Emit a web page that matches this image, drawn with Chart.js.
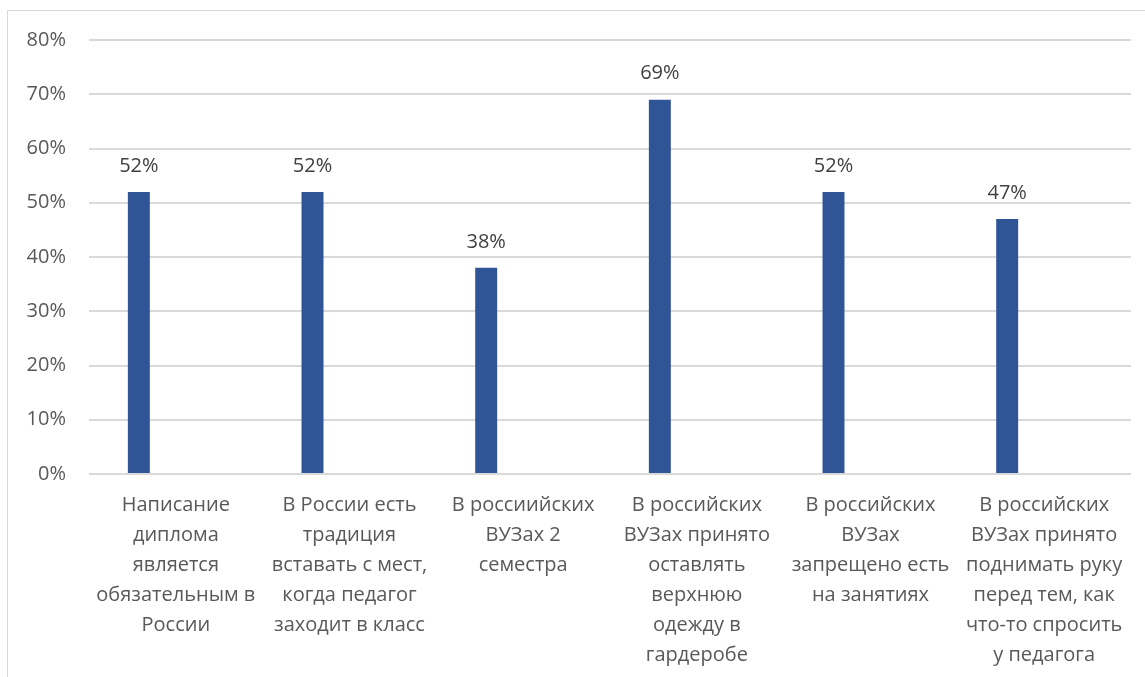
<!DOCTYPE html>
<html>
<head>
<meta charset="utf-8">
<script src="https://cdn.jsdelivr.net/npm/chart.js@4/dist/chart.umd.min.js"></script>
<style>
  html, body { margin: 0; padding: 0; background: #fff; }
  #wrap { position: relative; width: 1145px; height: 677px; overflow: hidden; }
  #frame { position: absolute; left: 7px; top: 10px; width: 1200px; height: 700px;
    border-left: 1px solid #d9d9d9; border-top: 1px solid #d9d9d9; }
  #chart { position: absolute; left: 0; top: 0; }
</style>
</head>
<body>
<div id="wrap">
  <div id="frame"></div>
  <canvas id="chart" width="1145" height="677"></canvas>
</div>
<script>
const CATEGORIES = [
  ['Написание', 'диплома', 'является', 'обязательным в', 'России'],
  ['В России есть', 'традиция', 'вставать с мест,', 'когда педагог', 'заходит в класс'],
  ['В россиийских', 'ВУЗах 2', 'семестра'],
  ['В российских', 'ВУЗах принято', 'оставлять', 'верхнюю', 'одежду в', 'гардеробе'],
  ['В российских', 'ВУЗах', 'запрещено есть', 'на занятиях'],
  ['В российских', 'ВУЗах принято', 'поднимать руку', 'перед тем, как', 'что-то спросить', 'у педагога'],
];

const ANSWER_VALUES = [52, 52, 38, 69, 52, 47];

// second series is empty in the source chart, it only keeps the bar offset
const EMPTY_VALUES = [null, null, null, null, null, null];

const Y_TICKS = [0, 10, 20, 30, 40, 50, 60, 70, 80];

const BAR_COLOR = '#2F5597';
const TEXT_COLOR = '#595959';
const GRID_COLOR = '#d9d9d9';
const FONT = "'Open Sans', 'Noto Sans', sans-serif";

const valueLabels = {
  id: 'valueLabels',
  afterDatasetsDraw(chart) {
    const { ctx } = chart;
    const meta = chart.getDatasetMeta(0);
    ctx.save();
    ctx.fillStyle = '#404040';
    ctx.font = `20px ${FONT}`;
    ctx.textAlign = 'center';
    ctx.textBaseline = 'middle';
    meta.data.forEach((bar, i) => {
      ctx.fillText(`${ANSWER_VALUES[i]}%`, bar.x, bar.y - 26);
    });
    ctx.restore();
  },
};

const ctx = document.getElementById('chart').getContext('2d');

new Chart(ctx, {
  type: 'bar',
  data: {
    labels: CATEGORIES,
    datasets: [
      {
        data: ANSWER_VALUES,
        backgroundColor: BAR_COLOR,
        borderColor: BAR_COLOR,
        borderWidth: 0,
      },
      {
        data: EMPTY_VALUES,
        backgroundColor: '#ED7D31',
      },
    ],
  },
  options: {
    responsive: false,
    animation: false,
    events: [],
    categoryPercentage: 0.852,
    barPercentage: 0.297,
    layout: { padding: { top: 40, right: 14, left: 0, bottom: 0 } },
    plugins: {
      legend: { display: false },
      tooltip: { enabled: false },
    },
    scales: {
      x: {
        grid: { display: false, drawTicks: false },
        border: { display: false },
        ticks: {
          color: TEXT_COLOR,
          font: { family: FONT, size: 20, lineHeight: 1.5 },
          padding: 16,
          maxRotation: 0,
          autoSkip: false,
        },
        afterFit: (scale) => { scale.height = 203; },
      },
      y: {
        min: 0,
        max: 80,
        afterBuildTicks: (scale) => { scale.ticks = Y_TICKS.map(v => ({ value: v })); },
        grid: { color: GRID_COLOR, lineWidth: 2, drawTicks: false },
        border: { display: false },
        ticks: {
          color: TEXT_COLOR,
          font: { family: FONT, size: 20 },
          padding: 23,
          callback: (v) => `${v}%`,
        },
        afterFit: (scale) => { scale.width = 89; },
      },
    },
  },
  plugins: [valueLabels],
});
</script>
</body>
</html>
